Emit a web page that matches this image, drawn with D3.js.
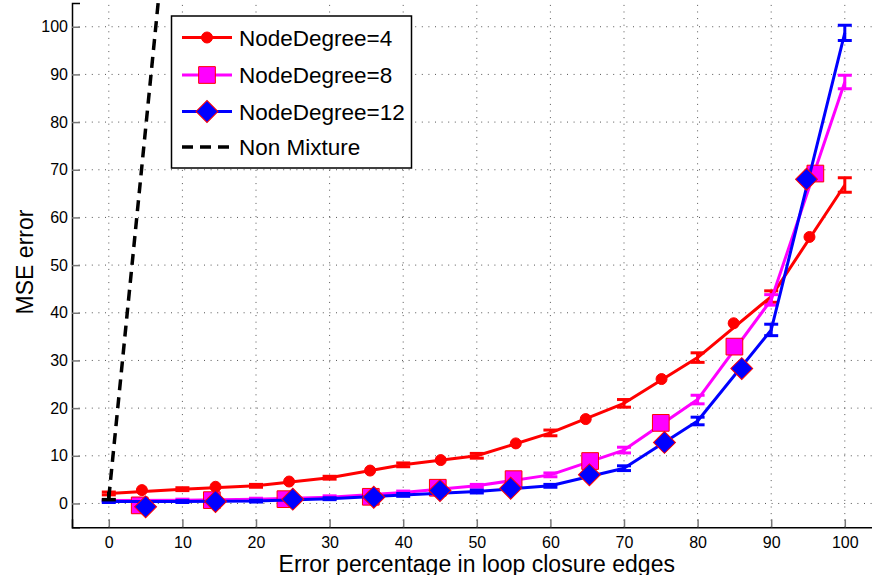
<!DOCTYPE html>
<html>
<head>
<meta charset="utf-8">
<script src="https://cdn.jsdelivr.net/npm/d3@7/dist/d3.min.js"></script>
<style>
  body { margin: 0; background: #fff; }
  svg { display: block; font-family: "Liberation Sans", Arial, Helvetica, sans-serif; }
</style>
</head>
<body>
<svg id="chart" width="872" height="575"></svg>
<script>
// data
const xTicks = [0, 10, 20, 30, 40, 50, 60, 70, 80, 90, 100];
const yTicks = [0, 10, 20, 30, 40, 50, 60, 70, 80, 90, 100];

const xErr = [0, 10, 20, 30, 40, 50, 60, 70, 80, 90, 100];

// NodeDegree=4
const deg4Mean = [2.1, 3.0, 3.7, 5.4, 8.1, 10.0, 14.8, 21.0, 30.6, 43.4, 66.8];
const deg4Err  = [0.3, 0.3, 0.3, 0.3, 0.4, 0.5, 0.6, 0.8, 1.0, 1.2, 1.5];
const deg4MarkX = [4.5, 14.5, 24.5, 35.5, 45.1, 55.3, 64.8, 75.1, 84.9, 95.2];
const deg4MarkY = [2.8, 3.5, 4.6, 6.9, 9.1, 12.6, 17.7, 26.1, 37.8, 55.9];

// NodeDegree=8
const deg8Mean = [0.6, 0.7, 0.9, 1.3, 2.3, 3.7, 6.0, 11.2, 21.8, 42.7, 88.4];
const deg8Err  = [0.2, 0.2, 0.2, 0.3, 0.3, 0.3, 0.4, 0.6, 0.9, 1.1, 1.4];
const deg8MarkX = [4.2, 14, 24, 35.6, 44.7, 55, 65.4, 75, 85, 96];
const deg8MarkY = [-0.4, 0.7, 0.9, 1.4, 3.3, 5.1, 8.9, 16.9, 32.9, 69.2];

// NodeDegree=12
const deg12Mean = [0.4, 0.4, 0.5, 1.0, 1.8, 2.5, 3.7, 7.4, 17.3, 36.4, 98.7];
const deg12Err  = [0.2, 0.2, 0.2, 0.2, 0.3, 0.3, 0.3, 0.5, 0.8, 1.2, 1.6];
const deg12MarkX = [5, 14.5, 25, 36, 45, 54.6, 65.3, 75.5, 86, 94.8];
const deg12MarkY = [-0.7, 0.4, 0.9, 1.3, 2.7, 3.2, 6.0, 12.8, 28.3, 68.0];

// Non Mixture
const nonMixX = [0, 10];
const nonMixY = [1.2, 156];
const nonMixErr = [0.4, 0];

const legendLabels = ["NodeDegree=4", "NodeDegree=8", "NodeDegree=12", "Non Mixture"];

const series = [
  { name: legendLabels[0], mean: deg4Mean, err: deg4Err, mx: deg4MarkX, my: deg4MarkY, color: "#ff0000", shape: "circle" },
  { name: legendLabels[1], mean: deg8Mean, err: deg8Err, mx: deg8MarkX, my: deg8MarkY, color: "#ff00ff", shape: "square" },
  { name: legendLabels[2], mean: deg12Mean, err: deg12Err, mx: deg12MarkX, my: deg12MarkY, color: "#0000ff", shape: "diamond" }
];

const svg = d3.select("#chart");

const x = d3.scaleLinear().domain([-5, 105]).range([72, 881.6]);
const y = d3.scaleLinear().domain([-5, 105]).range([527.3, 2.9]);

// clip
svg.append("defs").append("clipPath").attr("id", "plotClip")
  .append("rect")
  .attr("x", x(-5)).attr("y", y(105))
  .attr("width", x(105) - x(-5)).attr("height", y(-5) - y(105));

// grid
const grid = svg.append("g");
grid.selectAll(".gx")
  .data(xTicks)
  .enter()
  .append("line")
  .attr("x1", d => x(d)).attr("x2", d => x(d))
  .attr("y1", y(-5)).attr("y2", y(105))
  .attr("stroke", "#555").attr("stroke-width", 1)
  .attr("stroke-dasharray", "1,5.6");
grid.selectAll(".gy")
  .data(yTicks)
  .enter()
  .append("line")
  .attr("y1", d => y(d)).attr("y2", d => y(d))
  .attr("x1", x(-5)).attr("x2", x(105))
  .attr("stroke", "#555").attr("stroke-width", 1)
  .attr("stroke-dasharray", "1,5.6");

// axes
const xAxis = d3.axisBottom(x).tickValues(xTicks).tickSize(-8).tickPadding(9.5);
const yAxis = d3.axisLeft(y).tickValues(yTicks).tickSize(-8).tickPadding(4);

const gx = svg.append("g").attr("transform", `translate(0,${y(-5)})`).call(xAxis);
const gy = svg.append("g").attr("transform", `translate(${x(-5)},0)`).call(yAxis);
[gx, gy].forEach(g => {
  g.select(".domain").attr("stroke", "#000").attr("stroke-width", 1.5);
  g.selectAll(".tick line").attr("stroke", "#777").attr("stroke-width", 1.5);
  g.selectAll(".tick text").attr("font-size", "16px").attr("fill", "#000")
    .attr("font-family", "'Liberation Sans', Arial, sans-serif");
});

// axis labels
svg.append("text")
  .attr("x", (x(-5) + x(105)) / 2).attr("y", 572)
  .attr("text-anchor", "middle")
  .attr("font-size", "23px")
  .text("Error percentage in loop closure edges");
svg.append("text")
  .attr("transform", "translate(33,262) rotate(-90)")
  .attr("text-anchor", "middle")
  .attr("font-size", "23px")
  .text("MSE error");

// data
const plot = svg.append("g").attr("clip-path", "url(#plotClip)");
const line = d3.line().x(d => x(d[0])).y(d => y(d[1]));
const capW = 7;

function markerPath(shape) {
  if (shape === "circle") return d3.symbol().type(d3.symbolCircle).size(Math.PI * 5.5 * 5.5)();
  if (shape === "square") return d3.symbol().type(d3.symbolSquare).size(16.7 * 16.7)();
  return d3.symbol().type(d3.symbolSquare).size(15.5 * 15.5)();
}

series.forEach(s => {
  const g = plot.append("g");
  g.append("path")
    .datum(xErr.map((v, i) => [v, s.mean[i]]))
    .attr("fill", "none").attr("stroke", s.color).attr("stroke-width", 3)
    .attr("stroke-linejoin", "round")
    .attr("d", line);

  const eb = g.selectAll(".eb")
    .data(xErr.map((v, i) => ({ x: v, m: s.mean[i], e: s.err[i] })))
    .enter().append("g");
  eb.append("line")
    .attr("x1", d => x(d.x)).attr("x2", d => x(d.x))
    .attr("y1", d => y(d.m - d.e)).attr("y2", d => y(d.m + d.e))
    .attr("stroke", s.color).attr("stroke-width", 3);
  ["lo", "hi"].forEach(k => {
    eb.append("line")
      .attr("x1", d => x(d.x) - capW).attr("x2", d => x(d.x) + capW)
      .attr("y1", d => y(k === "lo" ? d.m - d.e : d.m + d.e))
      .attr("y2", d => y(k === "lo" ? d.m - d.e : d.m + d.e))
      .attr("stroke", s.color).attr("stroke-width", 3);
  });

  g.selectAll(".mk")
    .data(s.mx.map((v, i) => [v, s.my[i]]))
    .enter().append("path")
    .attr("d", markerPath(s.shape))
    .attr("transform", d => `translate(${x(d[0])},${y(d[1])})` + (s.shape === "diamond" ? " rotate(45)" : ""))
    .attr("fill", s.color)
    .attr("stroke", "#ff0000").attr("stroke-width", 1);
});

// non mixture
plot.append("path")
  .datum(nonMixX.map((v, i) => [v, nonMixY[i]]))
  .attr("fill", "none").attr("stroke", "#000").attr("stroke-width", 3.5)
  .attr("stroke-dasharray", "11,7")
  .attr("d", line);
plot.append("line")
  .attr("x1", x(nonMixX[0]) - capW).attr("x2", x(nonMixX[0]) + capW)
  .attr("y1", y(nonMixY[0] - nonMixErr[0])).attr("y2", y(nonMixY[0] - nonMixErr[0]))
  .attr("stroke", "#000").attr("stroke-width", 3.5);
plot.append("line")
  .attr("x1", x(nonMixX[0])).attr("x2", x(nonMixX[0]))
  .attr("y1", y(nonMixY[0] - nonMixErr[0])).attr("y2", y(nonMixY[0] + nonMixErr[0]) - 4)
  .attr("stroke", "#000").attr("stroke-width", 3.5);

// legend
const lg = svg.append("g");
lg.append("rect")
  .attr("x", 171.5).attr("y", 16).attr("width", 240).attr("height", 152)
  .attr("fill", "#fff").attr("stroke", "#000").attr("stroke-width", 1.5);
const rowY = [37.5, 75, 111.5, 147];
const legendItems = series.map(s => ({ name: s.name, color: s.color, shape: s.shape, dash: null }))
  .concat([{ name: legendLabels[3], color: "#000", shape: null, dash: "11,7" }]);
legendItems.forEach((it, i) => {
  lg.append("line")
    .attr("x1", 182).attr("x2", 232).attr("y1", rowY[i]).attr("y2", rowY[i])
    .attr("stroke", it.color).attr("stroke-width", it.dash ? 3.5 : 3)
    .attr("stroke-dasharray", it.dash);
  if (it.shape) {
    lg.append("path")
      .attr("d", markerPath(it.shape))
      .attr("transform", `translate(207,${rowY[i]})` + (it.shape === "diamond" ? " rotate(45)" : ""))
      .attr("fill", it.color).attr("stroke", "#ff0000").attr("stroke-width", 1);
  }
  lg.append("text")
    .attr("x", 239).attr("y", rowY[i] + 8)
    .attr("font-size", "22.5px")
    .text(it.name);
});
</script>
</body>
</html>
